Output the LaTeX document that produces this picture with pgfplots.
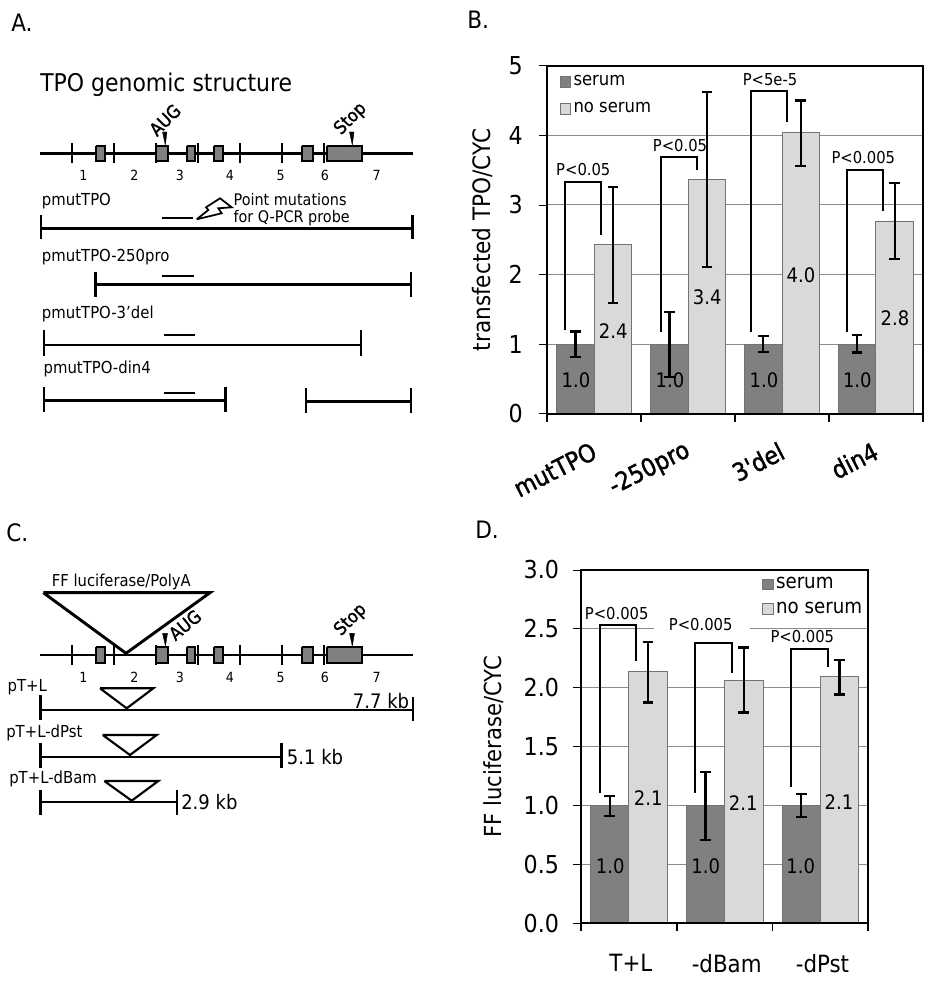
\documentclass[border=0pt]{standalone}
\usepackage{fontspec}
\usepackage{pgfplots}
\pgfplotsset{compat=1.18}
\setmainfont[FakeStretch=0.9]{DejaVu Sans}
\newfontfamily\semib[FakeStretch=0.9,FakeBold=1.5]{DejaVu Sans}
\newcommand{\fs}[1]{\fontsize{#1}{#1}\selectfont}
\definecolor{darkbar}{gray}{0.5}
\definecolor{lightbar}{gray}{0.85}
\definecolor{gridc}{gray}{0.55}
\definecolor{edgec}{gray}{0.45}
\definecolor{exon}{gray}{0.5}
\newcommand{\Ln}[2]{\addplot[black,line width=#1] coordinates {#2};}
\newcommand{\Exon}[1]{\addplot[draw=black,fill=exon,line width=1.5pt] coordinates {#1};}
\newcommand{\Tri}[2]{\addplot[draw=black,fill=white,line width=#1,line join=miter] coordinates {#2};}
\newcommand{\Arr}[1]{\addplot[draw=black,fill=black,line width=0.3pt] coordinates {#1};}
\newcommand{\Lbl}[4]{\node[anchor=west,inner sep=0pt] at (axis cs:#1,#2) {\fs{#3}#4};}
\newcommand{\Ctr}[4]{\node[anchor=center,inner sep=0pt] at (axis cs:#1,#2) {\fs{#3}#4};}
\pgfplotsset{
  barpanel/.style={
    scale only axis,
    ybar, bar width=0.4,
    ymin=0, axis line style={line width=1.3pt,black},
    tick align=outside, tick pos=left,
    major tick length=6pt,
    ymajorgrids, grid style={gridc,line width=0.7pt},
    ytick style={black,line width=0.6pt},
    xtick style={black,line width=1.3pt},
    xticklabels={},
    /pgf/number format/assume math mode=true,
    tick label style={black},
    error bars/error bar style={black,line width=1.7pt},
    error bars/error mark options={rotate=90,black,mark size=4pt,line width=1.7pt},
    legend style={draw=none,fill=none,inner sep=0pt},
    legend cell align=left,
    legend image code/.code={\draw[##1,draw=edgec,line width=0.5pt] (0pt,-3.9pt) rectangle (7.8pt,3.9pt);},
  },
  serumbar/.style={fill=darkbar,draw=edgec,line width=0.6pt,bar shift=-0.2,
     error bars/.cd,y dir=both,y explicit},
  nobar/.style={fill=lightbar,draw=edgec,line width=0.6pt,bar shift=0.2,
     error bars/.cd,y dir=both,y explicit},
}
\begin{document}
\begin{tikzpicture}
\useasboundingbox (0,0) rectangle (702pt,741pt);
\fill[white] (0,0) rectangle (702pt,741pt);

% ---------- Panel B
\begin{axis}[barpanel,
  at={(410.5pt,430.7pt)},anchor=south west,
  width=281.6pt,height=261pt,
  xmin=-0.5,xmax=3.5,ymax=5,
  ytick={0,1,2,3,4,5},
  xtick={-0.5,0.5,1.5,2.5,3.5},
  extra x ticks={0,1,2,3},
  extra x tick labels={mutTPO,-250pro,3'del,din4},
  extra x tick style={major tick length=0pt,
    tick label style={rotate=27,anchor=east,font=\semib\fs{18.5},xshift=-8.5pt,yshift=-24pt}},
  yticklabel style={font=\fs{18.5},xshift=-9pt},
  ylabel={transfected TPO/CYC},
  y label style={at={(axis description cs:-0.174,0.5)},anchor=center,font=\fs{18}},
  legend style={at={(axis description cs:0.0325,0.98)},anchor=north west,row sep=7pt,font=\fs{13.7},/tikz/every even column/.append style={column sep=5pt}},
]
\addplot[serumbar] coordinates {
 (0,1.0) += (0,0.18) -= (0,0.18)
 (1,1.0) += (0,0.465) -= (0,0.47)
 (2,1.0) += (0,0.12) -= (0,0.11)
 (3,1.0) += (0,0.13) -= (0,0.12)};
\addlegendentry{serum}
\addplot[nobar] coordinates {
 (0,2.43) += (0,0.83) -= (0,0.84)
 (1,3.37) += (0,1.25) -= (0,1.26)
 (2,4.04) += (0,0.46) -= (0,0.48)
 (3,2.77) += (0,0.54) -= (0,0.55)};
\addlegendentry{no serum}
\end{axis}

% ---------- Panel D
\begin{axis}[barpanel,
  at={(435.75pt,48.5pt)},anchor=south west,
  width=215.5pt,height=265pt,
  xmin=-0.5,xmax=2.5,ymax=3,
  ytick={0,0.5,1,1.5,2,2.5,3},
  yticklabel style={font=\fs{18.5},xshift=-7pt,/pgf/number format/fixed,/pgf/number format/fixed zerofill,/pgf/number format/precision=1},
  xtick={-0.5,0.5,1.5,2.5},
  extra x ticks={0,1,2},
  extra x tick labels={T+L,-dBam,-dPst},
  extra x tick style={major tick length=0pt,
    tick label style={font=\fs{17.8},anchor=center,yshift=-30pt,xshift=1.5pt}},
  ylabel={FF luciferase/CYC},
  y label style={at={(axis description cs:-0.303,0.5)},anchor=center,font=\fs{17.6}},
  legend style={at={(axis description cs:0.63,0.987)},anchor=north west,row sep=4.5pt,font=\fs{15.2},/tikz/every even column/.append style={column sep=5pt}},
]
\addplot[serumbar] coordinates {
 (0,1.0) += (0,0.08) -= (0,0.086)
 (1,1.0) += (0,0.287) -= (0,0.29)
 (2,1.0) += (0,0.10) -= (0,0.098)};
\addlegendentry{serum}
\addplot[nobar] coordinates {
 (0,2.136) += (0,0.254) -= (0,0.26)
 (1,2.065) += (0,0.278) -= (0,0.275)
 (2,2.093) += (0,0.142) -= (0,0.149)};
\addlegendentry{no serum}
\end{axis}

% ---------- Schematics and annotations, in picture pixels
\begin{axis}[hide axis,scale only axis,at={(0pt,0pt)},anchor=south west,
  width=702pt,height=741pt,xmin=0,xmax=936,ymin=0,ymax=988,y dir=reverse,clip=false]

% gap in grid line of D
\addplot[white,line width=2pt] coordinates {(653.5,628.3)(750,628.3)};
% axis lines over the bars' feet
\Ln{1.3pt}{(547.3,413.7)(922.7,413.7)}
\Ln{1.3pt}{(581,923.3)(868.3,923.3)}

% panel letters
\Lbl{11}{22.7}{18}{A.}
\Lbl{467}{20}{18}{B.}
\Lbl{6}{532.7}{18}{C.}
\Lbl{475}{530}{18}{D.}

% ---- A
\Lbl{40}{85}{18.3}{TPO genomic structure}
\Ln{2.2pt}{(40,153.3)(412.7,153.3)}
\Ln{1.3pt}{(71.7,143.3)(71.7,163.3)}
\Ln{1.3pt}{(114,143.3)(114,163.3)}
\Ln{1.3pt}{(156,143.3)(156,163.3)}
\Ln{1.3pt}{(198.3,143.3)(198.3,163.3)}
\Ln{1.3pt}{(240,143.3)(240,163.3)}
\Ln{1.3pt}{(281.7,143.3)(281.7,163.3)}
\Ln{1.3pt}{(324,143.3)(324,163.3)}
\Exon{(96,145.7)(104.7,145.7)(104.7,161.3)(96,161.3)(96,145.7)}
\Exon{(155.7,145.7)(168,145.7)(168,161.3)(155.7,161.3)(155.7,145.7)}
\Exon{(186.7,145.7)(195,145.7)(195,161.3)(186.7,161.3)(186.7,145.7)}
\Exon{(214.3,145.7)(223.3,145.7)(223.3,161.3)(214.3,161.3)(214.3,145.7)}
\Exon{(301.7,145.7)(313.3,145.7)(313.3,161.3)(301.7,161.3)(301.7,145.7)}
\Exon{(326.7,145.7)(362,145.7)(362,161.3)(326.7,161.3)(326.7,145.7)}
\Arr{(162.5,132)(167,132)(165.3,145)(162.5,132)}
\Arr{(349.5,132)(354,132)(352.3,145)(349.5,132)}
\node[rotate=45,inner sep=0pt] at (axis cs:165,120) {\semib\fs{13.5}AUG};
\node[rotate=45,inner sep=0pt] at (axis cs:350.7,119) {\semib\fs{13.5}Stop};
\Ctr{83.3}{175.7}{10.5}{1}
\Ctr{134.3}{175.7}{10.5}{2}
\Ctr{180}{175.7}{10.5}{3}
\Ctr{230}{175.7}{10.5}{4}
\Ctr{280.7}{175.7}{10.5}{5}
\Ctr{325}{175.7}{10.5}{6}
\Ctr{376.7}{175.7}{10.5}{7}
% pmutTPO
\Lbl{41.7}{200.7}{12.4}{pmutTPO}
\Lbl{233.3}{199.3}{12}{Point mutations}
\Lbl{233.3}{218.3}{12}{for Q-PCR probe}
\Ln{1.6pt}{(162.3,218)(193.3,218)}
\Tri{1.3pt}{(196.7,219.3)(208.3,210)(206,207.3)(220,198.3)(231.7,207.3)(218.3,208.3)(221.7,213.3)(196.7,219.3)}
\Ln{2.2pt}{(40,228.3)(413,228.3)}
\Ln{1.8pt}{(40.7,215)(40.7,239.3)}
\Ln{2.2pt}{(412.7,215)(412.7,239.3)}
% 250pro
\Lbl{41.7}{256.7}{12.4}{pmutTPO-250pro}
\Ln{1.6pt}{(162.3,276)(193.5,276)}
\Ln{2.2pt}{(95,284.3)(411,284.3)}
\Ln{1.8pt}{(95.3,272.3)(95.3,296.7)}
\Ln{1.6pt}{(411,272.3)(411,296.7)}
% 3'del
\Lbl{41.7}{314.3}{12.4}{pmutTPO-3’del}
\Ln{1.6pt}{(164,335)(195.3,335)}
\Ln{2.2pt}{(44,345)(361.3,345)}
\Ln{1.6pt}{(44,330)(44,355.7)}
\Ln{1.6pt}{(361.3,330)(361.3,355.7)}
% din4
\Lbl{43.3}{369.3}{12.4}{pmutTPO-din4}
\Ln{1.6pt}{(164,393)(195.3,393)}
\Ln{2.2pt}{(44,400.3)(225.3,400.3)}
\Ln{1.6pt}{(44,386.7)(44,412)}
\Ln{1.8pt}{(225.3,386.7)(225.3,412)}
\Ln{2.2pt}{(306,401.3)(411,401.3)}
\Ln{1.6pt}{(306,388.3)(306,413.3)}
\Ln{1.8pt}{(411,388.3)(411,413.3)}

% ---- C
\Lbl{51.7}{581.7}{12.3}{FF luciferase/PolyA}
\Ln{2.2pt}{(40,655)(412.7,655)}
\Ln{1.3pt}{(71.7,645)(71.7,665)}
\Ln{1.3pt}{(114,645)(114,665)}
\Ln{1.3pt}{(156,645)(156,665)}
\Ln{1.3pt}{(198.3,645)(198.3,665)}
\Ln{1.3pt}{(240,645)(240,665)}
\Ln{1.3pt}{(281.7,645)(281.7,665)}
\Ln{1.3pt}{(324,645)(324,665)}
\Exon{(96,646.7)(104.7,646.7)(104.7,662.7)(96,662.7)(96,646.7)}
\Exon{(155.7,646.7)(168,646.7)(168,662.7)(155.7,662.7)(155.7,646.7)}
\Exon{(186.7,646.7)(195,646.7)(195,662.7)(186.7,662.7)(186.7,646.7)}
\Exon{(214.3,646.7)(223.3,646.7)(223.3,662.7)(214.3,662.7)(214.3,646.7)}
\Exon{(301.7,646.7)(313.3,646.7)(313.3,662.7)(301.7,662.7)(301.7,646.7)}
\Exon{(326.7,646.7)(362,646.7)(362,662.7)(326.7,662.7)(326.7,646.7)}
\addplot[black,line width=2.2pt,line join=miter] coordinates {(43.3,592.7)(210,592.7)(126,653.3)(43.3,592.7)};
\Arr{(162.5,633.3)(167.5,633.3)(165.5,646)(162.5,633.3)}
\Arr{(349.5,633.3)(354.5,633.3)(352.3,646)(349.5,633.3)}
\node[rotate=40,inner sep=0pt] at (axis cs:185,625) {\semib\fs{13.5}AUG};
\node[rotate=45,inner sep=0pt] at (axis cs:350.7,620) {\semib\fs{13.5}Stop};
\Ctr{83.3}{677.7}{10.5}{1}
\Ctr{134.3}{677.7}{10.5}{2}
\Ctr{180}{677.7}{10.5}{3}
\Ctr{230}{677.7}{10.5}{4}
\Ctr{280.7}{677.7}{10.5}{5}
\Ctr{325}{677.7}{10.5}{6}
\Ctr{376.7}{677.7}{10.5}{7}
% pT+L
\Lbl{7.3}{687.3}{12.4}{pT+L}
\Tri{1.6pt}{(100,688.3)(153.3,688.3)(126.7,708.3)(100,688.3)}
\Lbl{352.7}{700.7}{15}{7.7 kb}
\Ln{2.2pt}{(40,710)(413,710)}
\Ln{1.6pt}{(40.5,695)(40.5,720)}
\Ln{1.8pt}{(412.7,696.7)(412.7,720.7)}
% dPst
\Lbl{6}{733.3}{12.4}{pT+L-dPst}
\Tri{1.6pt}{(102.7,735)(156.7,735)(130,755)(102.7,735)}
\Ln{1.6pt}{(40,756.7)(281.3,756.7)}
\Ln{1.6pt}{(40.5,743.3)(40.5,768.3)}
\Ln{1.8pt}{(281.3,743.3)(281.3,768.3)}
\Lbl{286.7}{756.7}{15}{5.1 kb}
% dBam
\Lbl{9}{779.3}{12.4}{pT+L-dBam}
\Tri{1.6pt}{(104.3,781)(158.3,781)(131.7,800.7)(104.3,781)}
\Ln{1.6pt}{(40,802.3)(176.7,802.3)}
\Ln{1.6pt}{(40.5,790)(40.5,815)}
\Ln{1.6pt}{(176.7,790)(176.7,815)}
\Lbl{181}{802.3}{15}{2.9 kb}

% ---- B annotations
\Ln{1.7pt}{(565,330)(565,181.7)(601,181.7)(601,235)}
\Ln{1.7pt}{(660.7,331.7)(660.7,156.7)(697.3,156.7)(697.3,170)}
\Ln{1.7pt}{(750.7,331.7)(750.7,91)(786.7,91)(786.7,122.3)}
\Ln{1.7pt}{(846.7,331.7)(846.7,170)(882.7,170)(882.7,211)}
\Ctr{583.3}{170}{12.3}{P<0.05}
\Ctr{680}{145.7}{12.3}{P<0.05}
\Ctr{770}{79.3}{12.3}{P<5e-5}
\Ctr{863.3}{157.7}{12.3}{P<0.005}
\Ctr{576}{380}{15}{1.0}
\Ctr{670}{380}{15}{1.0}
\Ctr{764}{380}{15}{1.0}
\Ctr{857.3}{380}{15}{1.0}
\Ctr{613.3}{330.7}{15}{2.4}
\Ctr{707.3}{297.7}{15}{3.4}
\Ctr{801}{275}{15}{4.0}
\Ctr{895}{318.3}{15}{2.8}

% ---- D annotations
\Ln{1.7pt}{(599.7,792.7)(599.7,625)(635.7,625)(635.7,660.7)}
\Ln{1.7pt}{(695,792.7)(695,642.7)(731.7,642.7)(731.7,672.7)}
\Ln{1.7pt}{(791,786.7)(791,649)(827.7,649)(827.7,666.7)}
\Ctr{616.7}{613.3}{12.3}{P<0.005}
\Ctr{700.7}{625}{12.3}{P<0.005}
\Ctr{802.3}{637}{12.3}{P<0.005}
\Ctr{610.3}{866}{15}{1.0}
\Ctr{705.7}{866}{15}{1.0}
\Ctr{800.7}{866}{15}{1.0}
\Ctr{648.3}{798.3}{15}{2.1}
\Ctr{743.3}{803.3}{15}{2.1}
\Ctr{839}{801.7}{15}{2.1}
\end{axis}
\end{tikzpicture}
\end{document}
